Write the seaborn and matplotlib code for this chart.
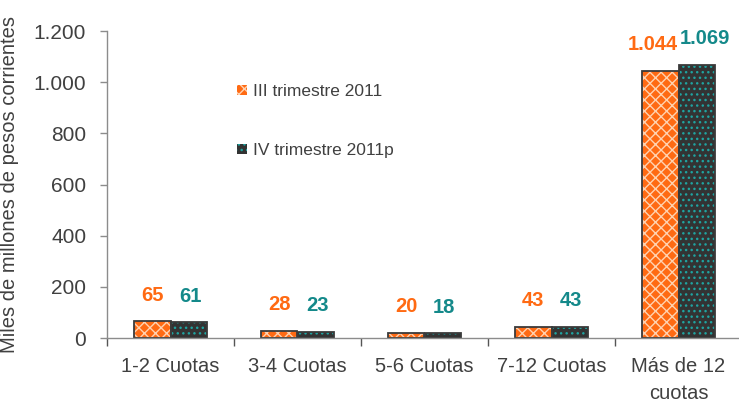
import numpy as np
import pandas as pd
import matplotlib
matplotlib.use("Agg")
import matplotlib.pyplot as plt
from matplotlib.patches import Rectangle, Patch
import seaborn as sns

# data
categories = ["1-2 Cuotas", "3-4 Cuotas", "5-6 Cuotas", "7-12 Cuotas", "Más de 12\ncuotas"]
series_names = ["III trimestre 2011", "IV trimestre 2011p"]
q3_values = [65, 28, 20, 43, 1044]
q4_values = [61, 23, 18, 43, 1069]
q3_labels = ["65", "28", "20", "43", "1.044"]
q4_labels = ["61", "23", "18", "43", "1.069"]
y_ticks = [0, 200, 400, 600, 800, 1000, 1200]
y_tick_labels = ["0", "200", "400", "600", "800", "1.000", "1.200"]

df = pd.DataFrame({
    "categoria": categories * 2,
    "serie": [series_names[0]] * 5 + [series_names[1]] * 5,
    "valor": q3_values + q4_values,
})

sns.set_style("white")
plt.rcParams["font.family"] = ["Liberation Sans", "DejaVu Sans"]
plt.rcParams["hatch.linewidth"] = 1.0

text_col = "#404040"
axis_col = "#8c8c8c"
orange = "#ff6a13"
dark = "#333333"
teal_dot = "#1fa3a0"
teal_txt = "#14898a"

fig = plt.figure(figsize=(7.39, 4.05), dpi=100)
W, H = 739, 405
ax = fig.add_axes([107 / W, 1 - 338 / H, 635 / W, (338 - 31) / H])

sns.barplot(data=df, x="categoria", y="valor", hue="serie", order=categories,
            hue_order=series_names, palette=[orange, dark], width=0.575,
            gap=0, saturation=1, legend=False, ax=ax)

# hatch colour goes through edgecolor, a dark outline is added on top
styles = {0: (orange, "#ffd2b0", "xxx"), 1: (dark, teal_dot, "...")}
for p in list(ax.patches):
    fc = p.get_facecolor()
    idx = 0 if np.allclose(fc[:3], matplotlib.colors.to_rgb(orange), atol=0.02) else 1
    face, hcol, hatch = styles[idx]
    p.set_facecolor(face)
    p.set_edgecolor(hcol)
    p.set_hatch(hatch)
    p.set_linewidth(0)
    ax.add_patch(Rectangle(p.get_xy(), p.get_width(), p.get_height(), fill=False,
                           edgecolor="#3a3a3a", linewidth=1.3, zorder=p.get_zorder() + 0.1))

# value labels (long ones pushed apart so they don't collide)
n = len(categories)
off = 0.575 / 4
for i in range(n):
    dx = 5 if len(q3_labels[i]) > 3 else 0
    ax.annotate(q3_labels[i], (i - off, q3_values[i]), xytext=(-dx, 12), textcoords="offset points",
                ha="center", va="bottom", fontsize=14.5, fontweight="bold", color=orange)
    ax.annotate(q4_labels[i], (i + off, q4_values[i]), xytext=(dx + 1, 12), textcoords="offset points",
                ha="center", va="bottom", fontsize=14.5, fontweight="bold", color=teal_txt)

ax.set_ylim(0, 1200)
ax.set_xlim(-0.5, n - 0.5)
ax.set_yticks(y_ticks)
ax.set_yticklabels(y_tick_labels)
ax.tick_params(axis="y", length=5, width=1, color=axis_col, labelsize=15,
               labelcolor=text_col, pad=10, left=True)

ax.set_xticks(np.arange(n) - 0.5)
ax.set_xticklabels([""] * n)
ax.set_xticks(np.arange(n), minor=True)
ax.set_xticklabels(categories, minor=True, fontsize=14.5, color=text_col, linespacing=1.5)
ax.tick_params(axis="x", which="major", length=6, width=1, color="#555555", bottom=True)
ax.tick_params(axis="x", which="minor", length=0, pad=14)

ax.set_xlabel("")
ax.set_ylabel("Miles de millones de pesos corrientes", fontsize=14.5, color=text_col)
ax.yaxis.set_label_coords(-(107 - 19) / 635, 0.5)

sns.despine(ax=ax)
for s in ["left", "bottom"]:
    ax.spines[s].set_color(axis_col)
    ax.spines[s].set_linewidth(1)

handles = [Patch(facecolor=orange, edgecolor="#ffd2b0", hatch="xxx", linewidth=0),
           Patch(facecolor=dark, edgecolor=teal_dot, hatch="...", linewidth=0)]
leg = ax.legend(handles, series_names, loc="upper left", frameon=False,
                bbox_to_anchor=(237 / W, 1 - 84 / H), bbox_transform=fig.transFigure,
                fontsize=12.5, handlelength=0.55, handleheight=0.55, handletextpad=0.35,
                labelspacing=2.55, borderpad=0, borderaxespad=0)
for t in leg.get_texts():
    t.set_color(text_col)

fig.savefig("out.png", dpi=100)
